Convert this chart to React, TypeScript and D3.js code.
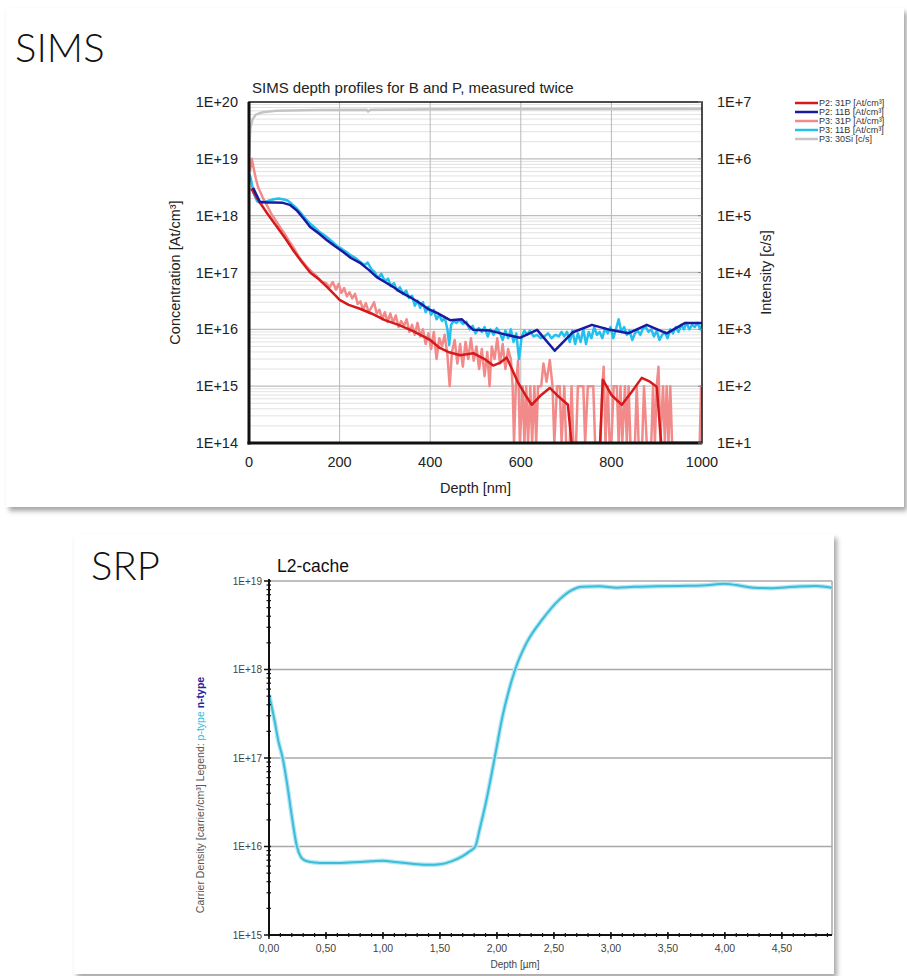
import React from 'react';
import * as d3 from 'd3';

// ---------------- SIMS data ----------------
const simsXTicks = [0, 200, 400, 600, 800, 1000];
const simsLeftTicks = [1e14, 1e15, 1e16, 1e17, 1e18, 1e19, 1e20];
const simsLeftLabels = ['1E+14', '1E+15', '1E+16', '1E+17', '1E+18', '1E+19', '1E+20'];
const simsRightTicks = [1e1, 1e2, 1e3, 1e4, 1e5, 1e6, 1e7];
const simsRightLabels = ['1E+1', '1E+2', '1E+3', '1E+4', '1E+5', '1E+6', '1E+7'];
const legendLabels = ['P2: 31P [At/cm³]', 'P2: 11B [At/cm³]', 'P3: 31P [At/cm³]', 'P3: 11B [At/cm³]', 'P3: 30Si [c/s]'];
const seriesColors = ['#d41a1a', '#1a1aa0', '#f28a8a', '#22c0ee', '#c4c4c4'];

// [depth nm, At/cm3]
const p2P31: [number, number][] = [
  [5, 3.0e18], [15, 2.2e18], [24, 1.7e18], [40, 1.1e18], [62, 6.3e17], [80, 4.0e17], [97, 2.5e17],
  [115, 1.6e17], [135, 1.0e17], [155, 7.5e16], [172, 5.6e16], [190, 4.0e16], [200, 3.3e16], [220, 2.7e16],
  [245, 2.3e16], [270, 1.9e16], [300, 1.45e16], [330, 1.2e16], [360, 9.5e15], [400, 6.5e15], [421, 4.7e15],
  [440, 4.0e15], [466, 3.5e15], [495, 3.8e15], [520, 3.0e15], [539, 2.3e15], [555, 2.6e15], [569, 3.2e15],
  [594, 1.15e15], [610, 7e14], [624, 4.7e14], [645, 7e14], [664, 9.3e14], [684, 6.5e14], [704, 4.7e14],
  [712, 0], [775, 0], [781, 1.3e15], [800, 7e14], [823, 4.7e14], [845, 8e14], [867, 1.4e15], [885, 1.2e15],
  [900, 9.8e14], [910, 0], [1000, 0],
];
const p2B11: [number, number][] = [
  [9, 3.1e18], [24, 1.75e18], [39, 1.7e18], [55, 1.7e18], [75, 1.68e18], [90, 1.55e18], [105, 1.25e18],
  [120, 9e17], [135, 6.3e17], [155, 4.8e17], [172, 3.7e17], [190, 2.9e17], [208, 2.3e17], [225, 1.8e17],
  [245, 1.48e17], [265, 1.1e17], [282, 8.3e16], [300, 6.8e16], [318, 5.6e16], [335, 4.5e16], [355, 3.7e16],
  [377, 2.9e16], [395, 2.3e16], [415, 1.95e16], [444, 1.45e16], [470, 1.5e16], [495, 9.8e15], [532, 9.5e15],
  [569, 8e15], [598, 7.1e15], [636, 9.8e15], [675, 4.2e15], [715, 8.9e15], [757, 1.2e16], [797, 9.8e15],
  [837, 8.5e15], [878, 1.2e16], [922, 8.5e15], [962, 1.29e16], [1000, 1.29e16],
];
const p3P31: [number, number][] = [
  [2, 6e18], [6, 1.0e19], [10, 7e18], [15, 4.5e18], [20, 3.2e18], [25, 2.6e18], [30, 2.1e18], [40, 1.5e18],
  [50, 1.05e18], [60, 8e17], [70, 6e17], [80, 4.6e17], [90, 3.4e17], [100, 2.6e17], [110, 1.9e17], [120, 1.5e17],
  [130, 1.2e17], [140, 1.0e17], [150, 8.5e16], [160, 7e16], [170, 6.5e16], [178, 5.5e16], [185, 6.8e16],
  [192, 5.0e16], [198, 6.3e16], [204, 4.4e16], [210, 5.3e16], [216, 3.8e16], [222, 4.5e16], [228, 3.5e16],
  [234, 4.2e16], [240, 2.8e16], [246, 3.1e16], [252, 2.2e16], [258, 2.9e16], [264, 2.0e16], [270, 2.4e16],
  [276, 3.0e16], [282, 1.9e16], [288, 2.2e16], [294, 1.5e16], [300, 2.0e16], [306, 1.35e16], [312, 1.9e16],
  [318, 1.3e16], [324, 1.75e16], [330, 1.1e16], [336, 1.4e16], [342, 1.15e16], [348, 1.5e16], [354, 9e15],
  [360, 1.2e16], [366, 8e15], [372, 1.3e16], [378, 7.5e15], [384, 1.0e16], [390, 5.5e15], [396, 8.5e15],
  [402, 4.5e15], [408, 9e15], [414, 3.0e15], [420, 7e15], [426, 5e15], [432, 8e15], [438, 3.5e15],
  [443, 1.0e15], [448, 4.0e15], [454, 6.5e15], [460, 2.5e15], [466, 5.5e15], [472, 2.2e15], [478, 6e15],
  [484, 3e15], [490, 7e15], [496, 2.8e15], [502, 5e15], [508, 2.0e15], [514, 4.5e15], [520, 1.5e15],
  [526, 4e15], [531, 1.0e15], [536, 5e15], [542, 3e15], [548, 7e15], [554, 2.5e15], [560, 5.5e15],
  [566, 2e15], [572, 4.5e15], [578, 3e15], [582, 1.0e15], [585, 0], [589, 1e15], [594, 2.8e15], [598, 0],
  [604, 1e15], [608, 0], [612, 1e15], [616, 0], [621, 1e15], [625, 0], [630, 1e15], [634, 0], [638, 1e15],
  [645, 1e15], [650, 2.5e15], [657, 1.2e15], [664, 2.9e15], [670, 1e15], [674, 0], [680, 1e15], [686, 1e15],
  [690, 0], [696, 1e15], [700, 0], [708, 0], [712, 1e15], [716, 0], [722, 0], [726, 1e15], [738, 1e15],
  [742, 0], [748, 1e15], [760, 1e15], [764, 0], [776, 0], [780, 1e15], [783, 2.2e15], [787, 0], [792, 1e15],
  [796, 0], [800, 0], [805, 1e15], [812, 1e15], [816, 0], [820, 1e15], [824, 0], [830, 1e15], [834, 0],
  [838, 1e15], [842, 0], [852, 0], [856, 1e15], [860, 0], [868, 0], [872, 1e15], [878, 0], [888, 0],
  [892, 1e15], [896, 0], [900, 1e15], [904, 2.2e15], [908, 0], [914, 1e15], [918, 0], [922, 1e15], [926, 0],
  [930, 1e15], [934, 0], [995, 0], [998, 1e15], [1000, 1e15],
];
const p3B11: [number, number][] = [
  [0, 5.5e18], [4, 4.5e18], [10, 2.5e18], [18, 1.8e18], [26, 1.65e18], [35, 1.75e18], [45, 1.85e18],
  [55, 1.95e18], [65, 2.0e18], [75, 1.95e18], [85, 1.85e18], [95, 1.6e18], [105, 1.35e18], [115, 1.1e18],
  [125, 8.8e17], [135, 7.2e17], [145, 6.2e17], [155, 5.2e17], [165, 4.6e17], [175, 4.0e17], [185, 3.4e17],
  [195, 2.9e17], [205, 2.6e17], [215, 2.3e17], [225, 2.0e17], [235, 1.8e17], [245, 1.55e17], [255, 1.35e17],
  [262, 1.5e17], [270, 1.15e17], [278, 1.0e17], [285, 8.0e16], [292, 9.5e16], [300, 7.0e16], [307, 7.8e16],
  [313, 5.8e16], [320, 6.5e16], [327, 4.8e16], [333, 5.5e16], [340, 4.2e16], [347, 4.8e16], [353, 3.6e16],
  [360, 3.9e16], [366, 2.6e16], [372, 3.2e16], [378, 2.4e16], [384, 3.0e16], [390, 2.0e16], [396, 2.5e16],
  [402, 1.8e16], [408, 2.2e16], [414, 1.5e16], [420, 1.8e16], [426, 1.4e16], [432, 1.6e16], [438, 1.0e16],
  [442, 5.3e15], [446, 1.2e16], [452, 1.4e16], [458, 1.3e16], [465, 1.45e16], [472, 1.25e16], [480, 1.35e16],
  [487, 1.0e16], [494, 1.15e16], [500, 8.5e15], [507, 1.05e16], [514, 9.0e15], [520, 1.1e16], [527, 7.5e15],
  [533, 1.0e16], [540, 8.0e15], [547, 1.05e16], [553, 9.0e15], [560, 6.5e15], [566, 9.5e15], [572, 7.0e15],
  [578, 1.0e16], [584, 6.0e15], [590, 8.5e15], [596, 3.0e15], [602, 7.5e15], [608, 9.5e15], [614, 8.0e15],
  [620, 9.5e15], [628, 7.5e15], [636, 8.0e15], [644, 7.0e15], [652, 7.5e15], [660, 8.5e15], [668, 7.0e15],
  [676, 8.0e15], [684, 7.5e15], [690, 9.0e15], [696, 7.5e15], [702, 9.0e15], [708, 6.0e15], [714, 9.5e15],
  [720, 5.5e15], [726, 8.5e15], [732, 6.0e15], [738, 1.0e16], [744, 5.5e15], [750, 9.0e15], [756, 7.0e15],
  [762, 1.1e16], [768, 8.0e15], [774, 9.0e15], [780, 7.0e15], [786, 1.05e16], [792, 8.5e15], [798, 1.1e16],
  [804, 7.0e15], [810, 1.0e16], [816, 1.5e16], [822, 9.0e15], [828, 1.1e16], [834, 8.0e15], [840, 9.5e15],
  [846, 6.5e15], [852, 8.5e15], [858, 9.5e15], [864, 8.0e15], [870, 1.05e16], [876, 1.1e16], [882, 9.0e15],
  [888, 1.0e16], [894, 7.5e15], [900, 9.5e15], [906, 6.5e15], [912, 8.0e15], [918, 9.0e15], [924, 7.0e15],
  [930, 1.0e16], [936, 8.5e15], [942, 1.1e16], [948, 9.0e15], [954, 1.2e16], [960, 1.0e16], [966, 1.3e16],
  [972, 1.0e16], [978, 1.2e16], [984, 1.1e16], [990, 1.3e16], [996, 1.0e16], [1000, 1.2e16],
];
// [depth nm, c/s] on the right axis
const p3Si30: [number, number][] = [
  [0, 1.2e6], [3, 3.5e6], [8, 5.0e6], [15, 6.0e6], [30, 6.6e6], [60, 7.0e6], [150, 7.2e6], [260, 7.3e6],
  [263, 6.8e6], [268, 7.3e6], [500, 7.5e6], [700, 7.5e6], [1000, 7.6e6],
];

// ---------------- SRP data ----------------
const srpXMax = 4.94;
const srpXTicks = [0, 0.5, 1, 1.5, 2, 2.5, 3, 3.5, 4, 4.5];
const srpXLabels = ['0,00', '0,50', '1,00', '1,50', '2,00', '2,50', '3,00', '3,50', '4,00', '4,50'];
const srpYTicks = [1e15, 1e16, 1e17, 1e18, 1e19];
const srpYLabels = ['1E+15', '1E+16', '1E+17', '1E+18', '1E+19'];
// [depth µm, carrier/cm3]
const srpCurve: [number, number][] = [
  [0.0, 5.2e17], [0.02, 4.0e17], [0.05, 2.6e17], [0.08, 1.6e17], [0.12, 1.0e17], [0.16, 5e16], [0.2, 2.2e16],
  [0.245, 1.0e16], [0.28, 7.6e15], [0.32, 6.9e15], [0.4, 6.6e15], [0.5, 6.5e15], [0.6, 6.5e15], [0.7, 6.6e15],
  [0.8, 6.7e15], [0.9, 6.8e15], [1.0, 6.9e15], [1.1, 6.7e15], [1.2, 6.5e15], [1.3, 6.3e15], [1.4, 6.2e15],
  [1.5, 6.3e15], [1.6, 6.8e15], [1.7, 7.8e15], [1.76, 8.8e15], [1.81, 1.0e16], [1.85, 1.6e16], [1.9, 3.0e16],
  [1.98, 1.0e17], [2.05, 3.0e17], [2.1, 5.5e17], [2.16, 1.0e18], [2.26, 2.0e18], [2.4, 3.7e18], [2.55, 6.2e18],
  [2.65, 7.8e18], [2.75, 8.6e18], [2.9, 8.7e18], [3.05, 8.4e18], [3.2, 8.6e18], [3.4, 8.7e18], [3.6, 8.8e18],
  [3.8, 8.9e18], [4.0, 9.3e18], [4.1, 9.0e18], [4.25, 8.4e18], [4.4, 8.3e18], [4.6, 8.6e18], [4.8, 8.8e18],
  [4.94, 8.4e18],
];

const FONT = "'Liberation Sans', Arial, sans-serif";
const BIG = "Lato, 'Open Sans', sans-serif";

export default function App() {
  // SIMS scales
  const sx = d3.scaleLinear().domain([0, 1000]).range([249, 702]);
  const syL = d3.scaleLog().domain([1e14, 1e20]).range([443, 102]).clamp(true);
  const syR = d3.scaleLog().domain([1e1, 1e7]).range([443, 102]).clamp(true);
  const lineL = d3.line<[number, number]>().x(d => sx(d[0])).y(d => syL(d[1] > 0 ? d[1] : 1e14));
  const lineR = d3.line<[number, number]>().x(d => sx(d[0])).y(d => syR(d[1] > 0 ? d[1] : 1e1));
  const [px0, px1] = sx.range();
  const [py0, py1] = [syL.range()[1], syL.range()[0]];

  const minorL: { v: number; major: boolean }[] = [];
  for (let e = 14; e < 20; e++) for (let m = 1; m <= 9; m++) minorL.push({ v: m * Math.pow(10, e), major: m === 1 });

  // SRP scales
  const rx = d3.scaleLinear().domain([0, srpXMax]).range([269, 832]);
  const ry = d3.scaleLog().domain([1e15, 1e19]).range([935, 581]);
  const srpLine = d3.line<[number, number]>().x(d => rx(d[0])).y(d => ry(d[1])).curve(d3.curveMonotoneX);
  const srpMinorX = d3.range(0, 50).map(i => i / 10).filter(v => v <= srpXMax);
  const srpMinorY: number[] = [];
  for (let e = 15; e < 19; e++) for (let m = 2; m <= 9; m++) srpMinorY.push(m * Math.pow(10, e));

  const legendRows = [0, 1, 2, 3, 4];
  const legendY = d3.scaleLinear().domain([0, 4]).range([103, 139]);

  return (
    <svg width={907} height={976} style={{ position: 'absolute', left: 0, top: 0, background: '#fff' }}>
      <defs>
        <filter id="sh" x="-5%" y="-5%" width="110%" height="112%">
          <feDropShadow dx="3" dy="4" stdDeviation="2.5" floodColor="#000" floodOpacity="0.35" />
        </filter>
        <clipPath id="simsClip"><rect x={px0} y={py0} width={px1 - px0} height={py1 - py0} /></clipPath>
        <clipPath id="srpClip"><rect x={269} y={575} width={832 - 269} height={935 - 575} /></clipPath>
      </defs>
      <rect x={0} y={0} width={907} height={976} fill="#fff" />

      {/* cards */}
      <rect x={6} y={8} width={898} height={499} fill="#fff" filter="url(#sh)" />
      <rect x={74} y={534} width={760} height={440} fill="#fff" filter="url(#sh)" />

      {/* ===== SIMS ===== */}
      <text x={15} y={62} fontFamily={BIG} fontWeight={300} fontSize={40} fill="#111">SIMS</text>
      <text x={252} y={93} fontFamily={FONT} fontSize={15} fill="#222">SIMS depth profiles for B and P, measured twice</text>

      {/* grid */}
      {minorL.map((t, i) => (
        <line key={'g' + i} x1={px0} x2={px1} y1={syL(t.v)} y2={syL(t.v)}
          stroke={t.major ? '#bdbdbd' : '#e2e2e2'} strokeWidth={t.major ? 1.4 : 1} />
      ))}
      {simsXTicks.slice(1, -1).map(v => (
        <line key={'vx' + v} x1={sx(v)} x2={sx(v)} y1={py0} y2={py1} stroke="#b8b8b8" strokeWidth={1} />
      ))}

      {/* series */}
      <g clipPath="url(#simsClip)" fill="none" strokeLinejoin="round">
        <path d={lineR(p3Si30) || ''} stroke={seriesColors[4]} strokeWidth={2.5} />
        <path d={lineL(p3P31) || ''} stroke={seriesColors[2]} strokeWidth={2.5} />
        <path d={lineL(p3B11) || ''} stroke={seriesColors[3]} strokeWidth={2.5} />
        <path d={lineL(p2P31) || ''} stroke={seriesColors[0]} strokeWidth={2.5} />
        <path d={lineL(p2B11) || ''} stroke={seriesColors[1]} strokeWidth={2.5} />
      </g>

      {/* frame */}
      <rect x={px0} y={py0} width={px1 - px0} height={py1 - py0} fill="none" stroke="#111" strokeWidth={1.5} />
      <line x1={px0} x2={px0} y1={py0} y2={py1 + 1.5} stroke="#111" strokeWidth={3} />
      <line x1={px0 - 1.5} x2={px1} y1={py1} y2={py1} stroke="#111" strokeWidth={3} />
      {simsRightTicks.map(v => (
        <line key={'rt' + v} x1={px1 - 4} x2={px1} y1={syR(v)} y2={syR(v)} stroke="#888" strokeWidth={1} />
      ))}

      {/* tick labels */}
      {simsLeftTicks.map((v, i) => (
        <text key={'ll' + i} x={238} y={syL(v) + 5} textAnchor="end" fontFamily={FONT} fontSize={14.5} fill="#222">{simsLeftLabels[i]}</text>
      ))}
      {simsRightTicks.map((v, i) => (
        <text key={'rl' + i} x={717} y={syR(v) + 5} fontFamily={FONT} fontSize={14.5} fill="#222">{simsRightLabels[i]}</text>
      ))}
      {simsXTicks.map(v => (
        <text key={'xl' + v} x={sx(v)} y={467} textAnchor="middle" fontFamily={FONT} fontSize={14.5} fill="#222">{v}</text>
      ))}
      <text x={(px0 + px1) / 2} y={493} textAnchor="middle" fontFamily={FONT} fontSize={14.5} fill="#222">Depth [nm]</text>
      <text transform={`translate(180,${(py0 + py1) / 2}) rotate(-90)`} textAnchor="middle" fontFamily={FONT} fontSize={14.5} fill="#222">Concentration [At/cm³]</text>
      <text transform={`translate(771,${(py0 + py1) / 2}) rotate(-90)`} textAnchor="middle" fontFamily={FONT} fontSize={14.5} fill="#222">Intensity [c/s]</text>

      {/* legend */}
      {legendRows.map(i => (
        <g key={'lg' + i}>
          <line x1={795} x2={818} y1={legendY(i)} y2={legendY(i)} stroke={seriesColors[i]} strokeWidth={2.5} />
          <text x={819} y={legendY(i) + 3} fontFamily={FONT} fontSize={9} fill="#333">{legendLabels[i]}</text>
        </g>
      ))}

      {/* ===== SRP ===== */}
      <text x={91} y={580} fontFamily={BIG} fontWeight={300} fontSize={40} fill="#111">SRP</text>
      <text x={277} y={572} fontFamily={FONT} fontSize={17.5} fill="#111">L2-cache</text>

      {srpYTicks.slice(1).map(v => (
        <line key={'sg' + v} x1={269} x2={832} y1={ry(v)} y2={ry(v)} stroke="#a8a8a8" strokeWidth={1.5} />
      ))}
      <line x1={832} x2={832} y1={ry(1e19)} y2={ry(1e15)} stroke="#a8a8a8" strokeWidth={1.5} />

      <g clipPath="url(#srpClip)" fill="none" strokeLinejoin="round">
        <path d={srpLine(srpCurve) || ''} stroke="#b5e6f2" strokeWidth={4.5} />
        <path d={srpLine(srpCurve) || ''} stroke="#3bbcd8" strokeWidth={2} />
      </g>

      {/* axes */}
      <line x1={269} x2={269} y1={ry(1e19) - 2} y2={ry(1e15)} stroke="#111" strokeWidth={2} />
      <line x1={268} x2={832} y1={ry(1e15)} y2={ry(1e15)} stroke="#111" strokeWidth={2} />
      {srpYTicks.map(v => (
        <line key={'yt' + v} x1={264} x2={271} y1={ry(v)} y2={ry(v)} stroke="#111" strokeWidth={1.5} />
      ))}
      {srpMinorY.map(v => (
        <line key={'ym' + v} x1={266.5} x2={271} y1={ry(v)} y2={ry(v)} stroke="#111" strokeWidth={1.2} />
      ))}
      {srpMinorX.map(v => (
        <line key={'xm' + v} x1={rx(v)} x2={rx(v)} y1={ry(1e15) - 2} y2={ry(1e15) + 2} stroke="#111" strokeWidth={1.2} />
      ))}
      {srpXTicks.map(v => (
        <line key={'xt' + v} x1={rx(v)} x2={rx(v)} y1={ry(1e15) - 3} y2={ry(1e15) + 4} stroke="#111" strokeWidth={1.5} />
      ))}
      {srpYTicks.map((v, i) => (
        <text key={'syl' + i} x={262} y={ry(v) + 3.5} textAnchor="end" fontFamily={FONT} fontSize={10} fill="#444">{srpYLabels[i]}</text>
      ))}
      {srpXTicks.map((v, i) => (
        <text key={'sxl' + i} x={rx(v)} y={952} textAnchor="middle" fontFamily={FONT} fontSize={10.5} fill="#444">{srpXLabels[i]}</text>
      ))}
      <text x={515} y={968} textAnchor="middle" fontFamily={FONT} fontSize={10} fill="#444">Depth [µm]</text>
      <text transform="translate(204,795) rotate(-90)" textAnchor="middle" fontFamily={FONT} fontSize={10.5} fill="#555">
        Carrier Density [carrier/cm³] Legend: <tspan fill="#2fbde0">p-type</tspan> <tspan fill="#22229a" fontWeight="bold">n-type</tspan>
      </text>
    </svg>
  );
}
